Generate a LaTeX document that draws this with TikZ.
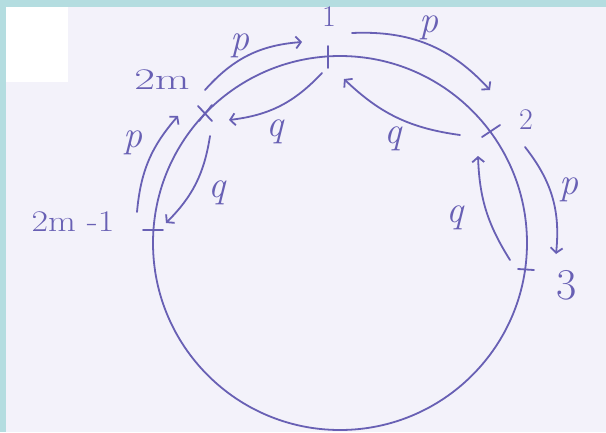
\documentclass[tikz,border=0pt]{standalone}
\usepackage{fontspec}
\usepackage{graphicx}
\usetikzlibrary{arrows.meta}
\definecolor{pencol}{RGB}{104,96,180}
\definecolor{frame}{RGB}{180,221,224}
\definecolor{paper}{RGB}{243,242,250}
\tikzset{
  pen/.style={draw=pencol, line width=1.8pt, line cap=round},
  arr/.style={pen, -{Straight Barb[length=5pt,width=12pt,line width=1.8pt]}, bend left=#1},
  arr/.default=28,
  lbl/.style={text=pencol, inner sep=0pt, font=\fontsize{30}{34}\selectfont},
  lblq/.style={lbl, font=\fontsize{38}{42}\selectfont\itshape},
}
\begin{document}
\begin{tikzpicture}[x=1pt,y=-1pt]
  % background
  \fill[frame] (0,0) rectangle (606,432);
  \fill[paper] (6,7) rectangle (606,432);
  \fill[white] (6,7) rectangle (68,82);
  \useasboundingbox (0,0) rectangle (606,432);

  % circle
  \draw[pen] (340,243) circle[radius=187];

  % ticks
  \draw[pen] (328,46) -- (328,68);
  \draw[pen] (482,137) -- (500,125);
  \draw[pen] (518,269) -- (534,270);
  \draw[pen] (143,230) -- (163,230);
  \draw[pen] (198,106) -- (212,121);
  \draw[pen] (212,105) -- (199,121);

  % labels
  \node[lbl] (n1) at (329,17) {1};
  \node[lbl] (n2) at (526,120) {2};
  \node[lbl, font=\fontsize{44}{48}\selectfont] (n3) at (567,285) {3};
  \node[lbl] (n2m) at (162,80) {\scalebox{1.5}[1]{2m}};
  \node[lbl] (n2m1) at (73,222) {\scalebox{1.2}[1]{2m -1}};

  \node[lblq] (p1) at (240,46) {p};
  \node[lblq] (p2) at (429,28) {p};
  \node[lblq] (p3) at (569,190) {p};
  \node[lblq] (p4) at (133,143) {p};
  \node[lblq] (q1) at (275,132) {q};
  \node[lblq] (q2) at (393,139) {q};
  \node[lblq] (q3) at (455,218) {q};
  \node[lblq] (q4) at (217,193) {q};

  % arrow end points
  \coordinate (a1s) at (205,90);  \coordinate (a1e) at (302,42);
  \coordinate (a2s) at (352,33);  \coordinate (a2e) at (490,90);
  \coordinate (a3s) at (525,147); \coordinate (a3e) at (556,254);
  \coordinate (a4s) at (137,212); \coordinate (a4e) at (178,116);
  \coordinate (b1s) at (322,73);  \coordinate (b1e) at (229,120);
  \coordinate (b2s) at (460,135); \coordinate (b2e) at (344,79);
  \coordinate (b3s) at (510,260); \coordinate (b3e) at (478,156);
  \coordinate (b4s) at (210,136); \coordinate (b4e) at (166,223);

  % p arrows (outside)
  \draw[arr=22] (a1s) to (a1e);
  \draw[arr=25] (a2s) to (a2e);
  \draw[arr=22] (a3s) to (a3e);
  \draw[arr=18] (a4s) to (a4e);
  % q arrows (inside)
  \draw[arr=20] (b1s) to (b1e);
  \draw[arr=18] (b2s) to (b2e);
  \draw[arr=15] (b3s) to (b3e);
  \draw[arr=18] (b4s) to (b4e);
\end{tikzpicture}
\end{document}
